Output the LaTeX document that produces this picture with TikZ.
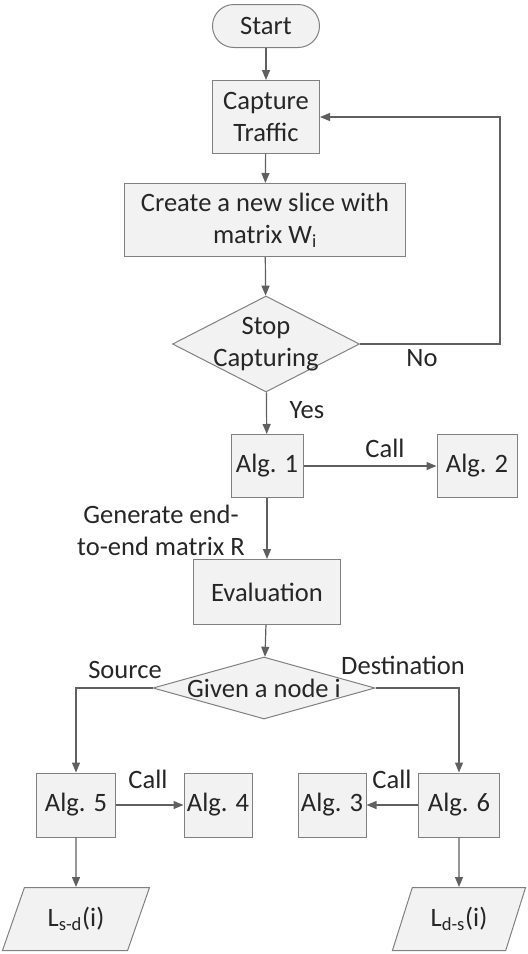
\documentclass[tikz,border=0pt]{standalone}
\usepackage{fontspec}
\setmainfont{Carlito}
\usetikzlibrary{shapes.geometric,arrows.meta}
\newcommand{\pxu}{0.75pt}
\newcommand{\nowidth}[1]{\makebox[0pt]{#1}}
\definecolor{boxline}{RGB}{128,128,128}
\definecolor{boxfill}{RGB}{242,242,242}
\definecolor{flowline}{RGB}{96,96,96}
\definecolor{inktext}{RGB}{38,38,38}
\tikzset{
  every node/.style={font=\fontsize{19.9}{24}\selectfont, text=inktext},
  flowbox/.style={draw=boxline, fill=boxfill, line width=0.75pt, inner sep=0pt, align=center},
  procbox/.style={flowbox, rectangle},
  startbox/.style={flowbox, rectangle, rounded corners=16pt},
  decision/.style={flowbox, diamond},
  iobox/.style={flowbox, trapezium, trapezium left angle=63, trapezium right angle=117,
    trapezium stretches=true},
  flow/.style={draw=flowline, line width=0.9pt, -{Triangle[length=7.5pt,width=6pt]}},
  lbl/.style={inner sep=0pt, align=center}
}
\begin{document}
\begin{tikzpicture}[x=0.75pt, y=-0.75pt]
\useasboundingbox (0,0) rectangle (528,954);
% main column
\node[startbox, minimum width=107*\pxu, minimum height=43*\pxu] (start) at (266,26) {Start};
\node[procbox, minimum width=107*\pxu, minimum height=73*\pxu] (capture) at (266,117) {Capture\\Traffic};
\node[procbox, minimum width=281*\pxu, minimum height=73*\pxu] (create) at (265,220) {Create a new slice with\\matrix W\textsubscript{i}};
\node[decision, minimum width=187*\pxu, minimum height=96*\pxu] (stop) at (266,344)
  {\nowidth{\begin{tabular}{@{}c@{}}Stop\\Capturing\end{tabular}}};
\node[procbox, minimum width=72*\pxu, minimum height=63*\pxu] (alg1) at (267,466) {Alg. 1};
\node[procbox, minimum width=80*\pxu, minimum height=63*\pxu] (alg2) at (477,466) {Alg. 2};
\node[procbox, minimum width=147*\pxu, minimum height=65*\pxu] (eval) at (267,592) {Evaluation};
\node[decision, minimum width=222*\pxu, minimum height=62*\pxu] (given) at (264,688) {\nowidth{Given a node i}};
% two branches
\node[procbox, minimum width=79*\pxu, minimum height=64*\pxu] (alg5) at (76,805) {Alg. 5};
\node[procbox, minimum width=68*\pxu, minimum height=64*\pxu] (alg4) at (218,805) {Alg. 4};
\node[procbox, minimum width=68*\pxu, minimum height=64*\pxu] (alg3) at (332,805) {Alg. 3};
\node[procbox, minimum width=81*\pxu, minimum height=64*\pxu] (alg6) at (459,805) {Alg. 6};
\node[iobox, minimum width=148*\pxu, minimum height=63*\pxu] (lsd) at (76,919) {L\textsubscript{s-d}(i)};
\node[iobox, minimum width=134*\pxu, minimum height=63*\pxu] (lds) at (459,919) {L\textsubscript{d-s}(i)};
\coordinate (loop) at (500,344);
% connectors
\draw[flow] (start) -- (capture);
\draw[flow] (capture) -- (create);
\draw[flow] (create) -- (stop);
\draw[flow] (stop.east) -- (loop) |- (capture.east);
\draw[flow] (stop) -- (alg1);
\draw[flow] (alg1) -- (alg2);
\draw[flow] (alg1) -- (eval);
\draw[flow] (eval) -- (given);
\draw[flow] (given.west) -| (alg5.north);
\draw[flow] (given.east) -| (alg6.north);
\draw[flow] (alg5) -- (alg4);
\draw[flow] (alg6) -- (alg3);
\draw[flow] (alg5) -- (lsd);
\draw[flow] (alg6) -- (lds);
% labels
\node[lbl] (nolbl) at (422,358) {No};
\node[lbl] (yeslbl) at (307,410) {Yes};
\node[lbl] (call1) at (385,448) {Call};
\node[lbl] (genlbl) at (161,530) {Generate end-\\to-end matrix R};
\node[lbl] (srclbl) at (125,670) {Source};
\node[lbl] (dstlbl) at (403,665) {Destination};
\node[lbl] (call2) at (148,779) {Call};
\node[lbl] (call3) at (392,779) {Call};
\end{tikzpicture}
\end{document}
